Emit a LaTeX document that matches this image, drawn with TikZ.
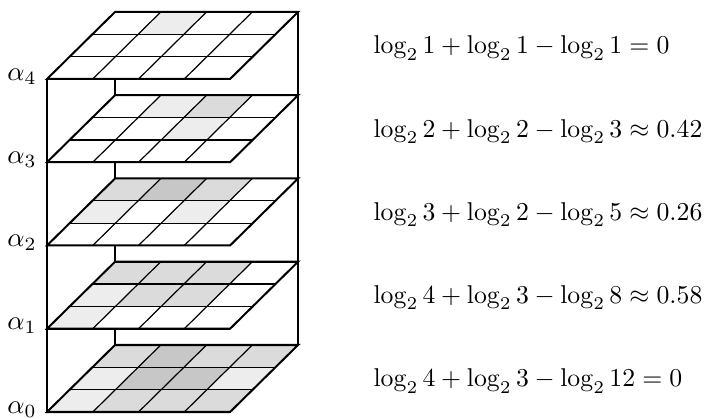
\documentclass[tikz,border=0pt]{standalone}
\usepackage{amsmath}
\usepackage{tikz}
\usetikzlibrary{positioning}

\begin{document}
\begin{tikzpicture}[
    x=0.373pt, y=0.373pt,
    gridline/.style ={black, line width=0.45pt},
    plateline/.style={black, line width=0.75pt, line join=miter},
    edgeline/.style ={black, line width=0.45pt},
    dotsA/.style={fill=black!7},
    dotsB/.style={fill=black!14},
    dotsC/.style={fill=black!22},
    alphalab/.style={inner sep=0pt, yshift=1pt},
    eqlab/.style={anchor=west, inner sep=0pt},
  ]
  \useasboundingbox (0,0) rectangle (712,419);

  % ---- layers: index / front y / shaded cells (col/row/style) / entropy term ----
  \foreach \k/\fy/\cells/\eq in {
      4/340/{1/2/dotsA}/{\log_2 1 + \log_2 1 - \log_2 1 = 0},
      3/256.75/{1/2/dotsA, 2/2/dotsB, 2/1/dotsA}/{\log_2 2 + \log_2 2 - \log_2 3 \approx 0.42},
      2/173.5/{0/2/dotsB, 1/2/dotsC, 2/2/dotsB, 0/1/dotsA, 2/1/dotsA}/{\log_2 3 + \log_2 2 - \log_2 5 \approx 0.26},
      1/90.25/{0/2/dotsB, 1/2/dotsB, 2/2/dotsB, 0/1/dotsA, 1/1/dotsB, 2/1/dotsB, 0/0/dotsA}/{\log_2 4 + \log_2 3 - \log_2 8 \approx 0.58},
      0/7/{0/2/dotsB, 1/2/dotsC, 2/2/dotsB, 3/2/dotsB, 0/1/dotsA, 1/1/dotsC, 2/1/dotsC, 3/1/dotsA, 0/0/dotsA, 1/0/dotsB, 2/0/dotsB, 3/0/dotsB}/{\log_2 4 + \log_2 3 - \log_2 12 = 0}} {
    \begin{scope}[shift={(47,\fy)}, x={(17.07pt,0pt)}, y={(8.455pt,8.33pt)}]
      % shaded cells
      \foreach \i/\j/\s in \cells {
        \fill[\s] (\i,\j) -- ++(1,0) -- ++(0,1) -- ++(-1,0) -- cycle;
      }
      % grid
      \foreach \i in {1,2,3} \draw[gridline] (\i,0) -- (\i,3);
      \foreach \j in {1,2} \draw[gridline] (0,\j) -- (4,\j);
      \draw[plateline] (0,0) -- (4,0) -- (4,3) -- (0,3) -- cycle;
      \coordinate (fl\k) at (0,0);
      \coordinate (fr\k) at (4,0);
      \coordinate (bl\k) at (0,3);
      \coordinate (br\k) at (4,3);
    \end{scope}
    \node[alphalab, left=3.7pt of fl\k] (alpha\k) {$\alpha_{\k}$};
    \node[eqlab] (eq\k) at (373,\fy+31) {\scalebox{0.96}{$\eq$}};
  }

  % ---- box edges ----
  \draw[edgeline] (fl4) -- (fl0);
  \draw[edgeline] (br4) -- (br0);
  \foreach \k/\m in {4/3, 3/2, 2/1, 1/0}
    \draw[edgeline] (bl\m |- fl\k) -- (bl\m);
\end{tikzpicture}
\end{document}
